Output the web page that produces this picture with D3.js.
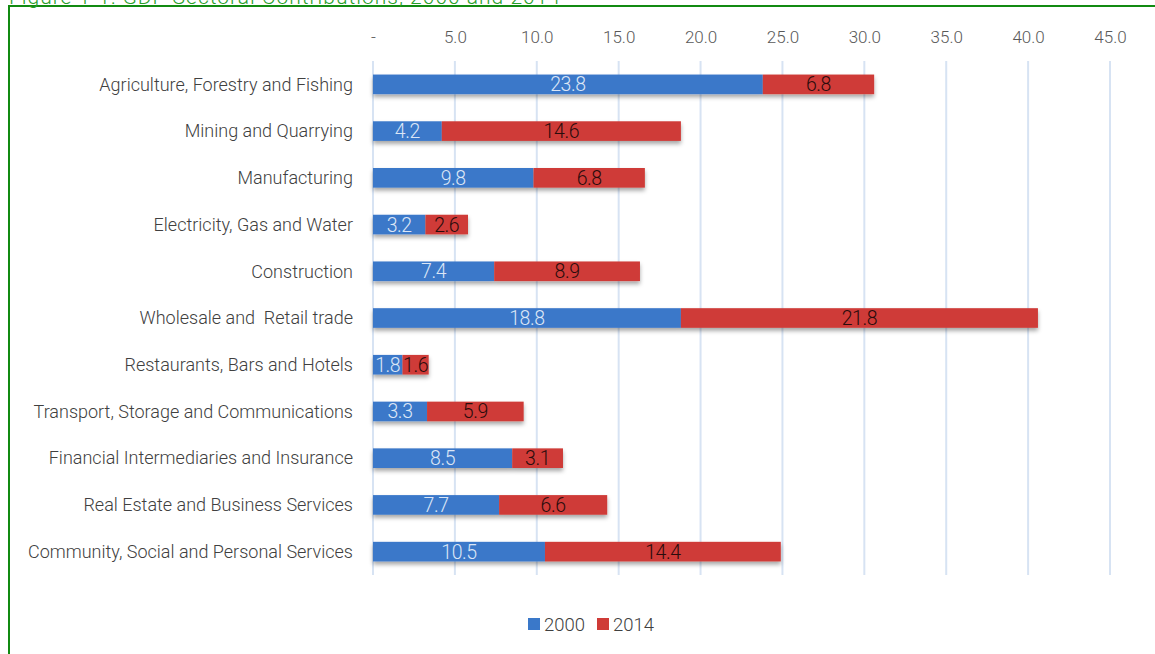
<!DOCTYPE html>
<html>
<head>
<meta charset="utf-8">
<script src="https://cdn.jsdelivr.net/npm/d3@7"></script>
<style>
  body { margin: 0; background: #fff; }
  svg { display: block; font-family: Roboto, "Liberation Sans", sans-serif; }
</style>
</head>
<body>
<svg id="chart" width="1155" height="654"></svg>
<script>
const sectors = [
  "Agriculture, Forestry and Fishing",
  "Mining and Quarrying",
  "Manufacturing",
  "Electricity, Gas and Water",
  "Construction",
  "Wholesale and  Retail trade",
  "Restaurants, Bars and Hotels",
  "Transport, Storage and Communications",
  "Financial Intermediaries and Insurance",
  "Real Estate and Business Services",
  "Community, Social and Personal Services",
];
const values2000 = [23.8, 4.2, 9.8, 3.2, 7.4, 18.8, 1.8, 3.3, 8.5, 7.7, 10.5];
const values2014 = [6.8, 14.6, 6.8, 2.6, 8.9, 21.8, 1.6, 5.9, 3.1, 6.6, 14.4];
const tickValues = [0, 5, 10, 15, 20, 25, 30, 35, 40, 45];
const seriesNames = ["2000", "2014"];
const colors = ["#3a78c9", "#cf3b37"];
const labelColors = ["#dbe6f6", "#2a0c0c"];

const svg = d3.select("#chart");

// frame + title (cut off at top, as in the source)
svg.append("rect")
  .attr("x", 9).attr("y", 6).attr("width", 1160).attr("height", 660)
  .attr("fill", "none").attr("stroke", "#118a11").attr("stroke-width", 2);
svg.append("text")
  .attr("x", 9).attr("y", 4)
  .attr("fill", "#2aa02a")
  .style("font-size", "21px").style("font-weight", 300)
  .style("letter-spacing", "1px")
  .text("Figure 1-1: GDP Sectoral Contributions, 2000 and 2014");

const x = d3.scaleLinear().domain([0, 45]).range([373, 1110]);
const y = d3.scaleBand().domain(sectors).range([61, 575]).paddingInner(0.58).paddingOuter(0.29);

const defs = svg.append("defs");
defs.append("filter").attr("id", "shadow")
  .attr("x", "-5%").attr("y", "-30%").attr("width", "110%").attr("height", "190%")
  .append("feDropShadow")
  .attr("dx", 0).attr("dy", 3).attr("stdDeviation", 2.2)
  .attr("flood-color", "#000").attr("flood-opacity", 0.35);

// gridlines
svg.append("g")
  .selectAll("line")
  .data(tickValues)
  .join("line")
  .attr("x1", d => x(d)).attr("x2", d => x(d))
  .attr("y1", 61).attr("y2", 575)
  .attr("stroke", "#d7e3f3").attr("stroke-width", 2);

// top axis
const xAxis = d3.axisTop(x)
  .tickValues(tickValues)
  .tickSize(0)
  .tickPadding(0)
  .tickFormat(d => d === 0 ? "-" : d3.format(".1f")(d));
const axisG = svg.append("g").attr("transform", "translate(0,43)").call(xAxis);
axisG.select(".domain").remove();
axisG.selectAll("text")
  .attr("fill", "#595959")
  .style("font-size", "17px").style("font-weight", 300)
  .style("font-family", "Roboto, sans-serif");

// category labels
svg.append("g")
  .selectAll("text")
  .data(sectors)
  .join("text")
  .attr("x", 353)
  .attr("y", d => y(d) + y.bandwidth() / 2)
  .attr("dy", "0.35em")
  .attr("text-anchor", "end")
  .attr("fill", "#404040")
  .style("font-size", "18px").style("font-weight", 300)
  .style("white-space", "pre")
  .text(d => d);

// stacked bars
const rows = sectors.map((s, i) => ({ sector: s, "2000": values2000[i], "2014": values2014[i] }));
const stacked = d3.stack().keys(seriesNames)(rows);

const barsG = svg.append("g");
barsG.append("g").attr("filter", "url(#shadow)")
  .selectAll("g")
  .data(stacked)
  .join("g")
  .attr("fill", (d, i) => colors[i])
  .selectAll("rect")
  .data(d => d)
  .join("rect")
  .attr("x", d => x(d[0]))
  .attr("width", d => x(d[1]) - x(d[0]))
  .attr("y", d => y(d.data.sector))
  .attr("height", y.bandwidth());

barsG.append("g")
  .selectAll("g")
  .data(stacked)
  .join("g")
  .attr("fill", (d, i) => labelColors[i])
  .selectAll("text")
  .data(d => d)
  .join("text")
  .attr("x", d => (x(d[0]) + x(d[1])) / 2)
  .attr("y", d => y(d.data.sector) + y.bandwidth() / 2)
  .attr("dy", "0.36em")
  .attr("text-anchor", "middle")
  .style("font-size", "19.5px").style("font-weight", 300)
  .style("letter-spacing", "-0.4px")
  .text(d => d3.format(".1f")(d[1] - d[0]));

// legend
const legend = svg.append("g").attr("transform", "translate(528,624)");
const legendX = d3.scaleOrdinal().domain(seriesNames).range([0, 69]);
const item = legend.selectAll("g")
  .data(seriesNames)
  .join("g")
  .attr("transform", d => `translate(${legendX(d)},0)`);
item.append("rect")
  .attr("x", 0).attr("y", -6).attr("width", 12).attr("height", 12)
  .attr("fill", (d, i) => colors[i]);
item.append("text")
  .attr("x", 16).attr("dy", "0.36em")
  .attr("fill", "#404040")
  .style("font-size", "18.5px").style("font-weight", 300)
  .text(d => d);
</script>
</body>
</html>
